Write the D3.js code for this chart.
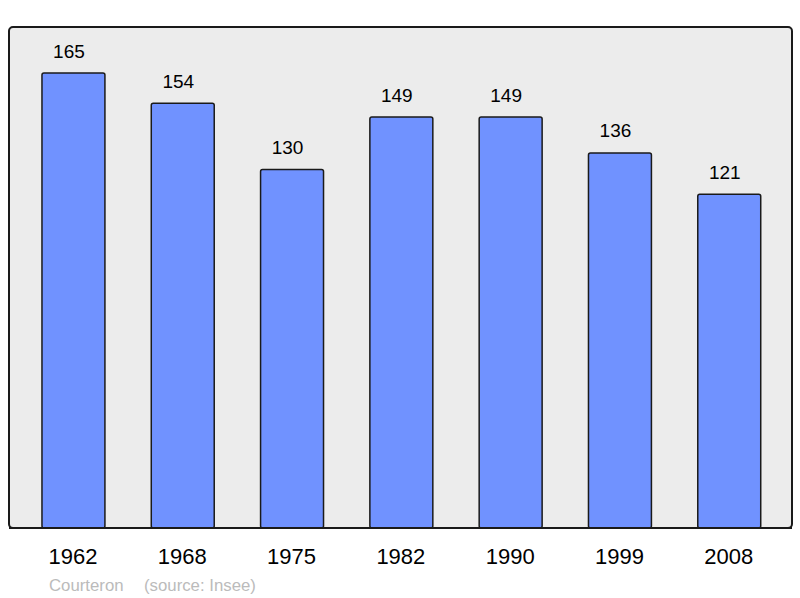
<!DOCTYPE html>
<html><head><meta charset="utf-8">
<script src="https://cdn.jsdelivr.net/npm/d3@7"></script>
<style>body{margin:0;background:#fff}svg{display:block}</style>
</head><body>
<script>
const years = ["1962","1968","1975","1982","1990","1999","2008"];
const population = [165,154,130,149,149,136,121];
const townName = "Courteron";
const sourceText = "(source: Insee)";

const W = 800, H = 598;
const svg = d3.select("body").append("svg").attr("width", W).attr("height", H);
const font = "'Liberation Sans', Arial, sans-serif";

svg.append("rect").attr("x", 9).attr("y", 27).attr("width", 783).attr("height", 501)
  .attr("rx", 4).attr("fill", "#ececec").attr("stroke", "#1a1a1a").attr("stroke-width", 2);

const x = d3.scaleBand().domain(years).range([18.8, 783.9]).paddingInner(0.424).paddingOuter(0.212);
const y = d3.scaleLinear().domain([0, 165]).range([528, 73]);

svg.selectAll("rect.bar").data(population).join("rect").attr("class","bar")
  .attr("x", (d,i) => x(years[i]))
  .attr("y", d => y(d))
  .attr("width", x.bandwidth())
  .attr("height", d => y(0) - y(d))
  .attr("rx", 2)
  .attr("fill", "#7092ff").attr("stroke", "#1a1a1a").attr("stroke-width", 1.5);

svg.append("line").attr("x1", 9).attr("x2", 792).attr("y1", 528).attr("y2", 528)
  .attr("stroke", "#1a1a1a").attr("stroke-width", 2);

svg.selectAll("text.val").data(population).join("text").attr("class","val")
  .attr("x", (d,i) => x(years[i]) + x.bandwidth()/2 - 4.5)
  .attr("y", d => y(d) - 15.5)
  .attr("text-anchor", "middle").attr("font-family", font).attr("font-size", 19)
  .attr("fill", "#000").text(d => d);

const xAxis = svg.append("g").attr("transform", "translate(0,528)")
  .call(d3.axisBottom(x).tickSize(0).tickPadding(0));
xAxis.select(".domain").remove();
xAxis.selectAll("text").attr("y", 36).attr("dy", null).attr("dx", -0.5)
  .attr("font-family", font).attr("font-size", 22).attr("fill", "#000");

svg.append("text").attr("x", 49).attr("y", 590.5).attr("font-family", font)
  .attr("font-size", 16.8).attr("fill", "#bbbbbb").text(townName);
svg.append("text").attr("x", 144).attr("y", 590.5).attr("font-family", font)
  .attr("font-size", 16.8).attr("fill", "#bbbbbb").text(sourceText);
</script>
</body></html>
